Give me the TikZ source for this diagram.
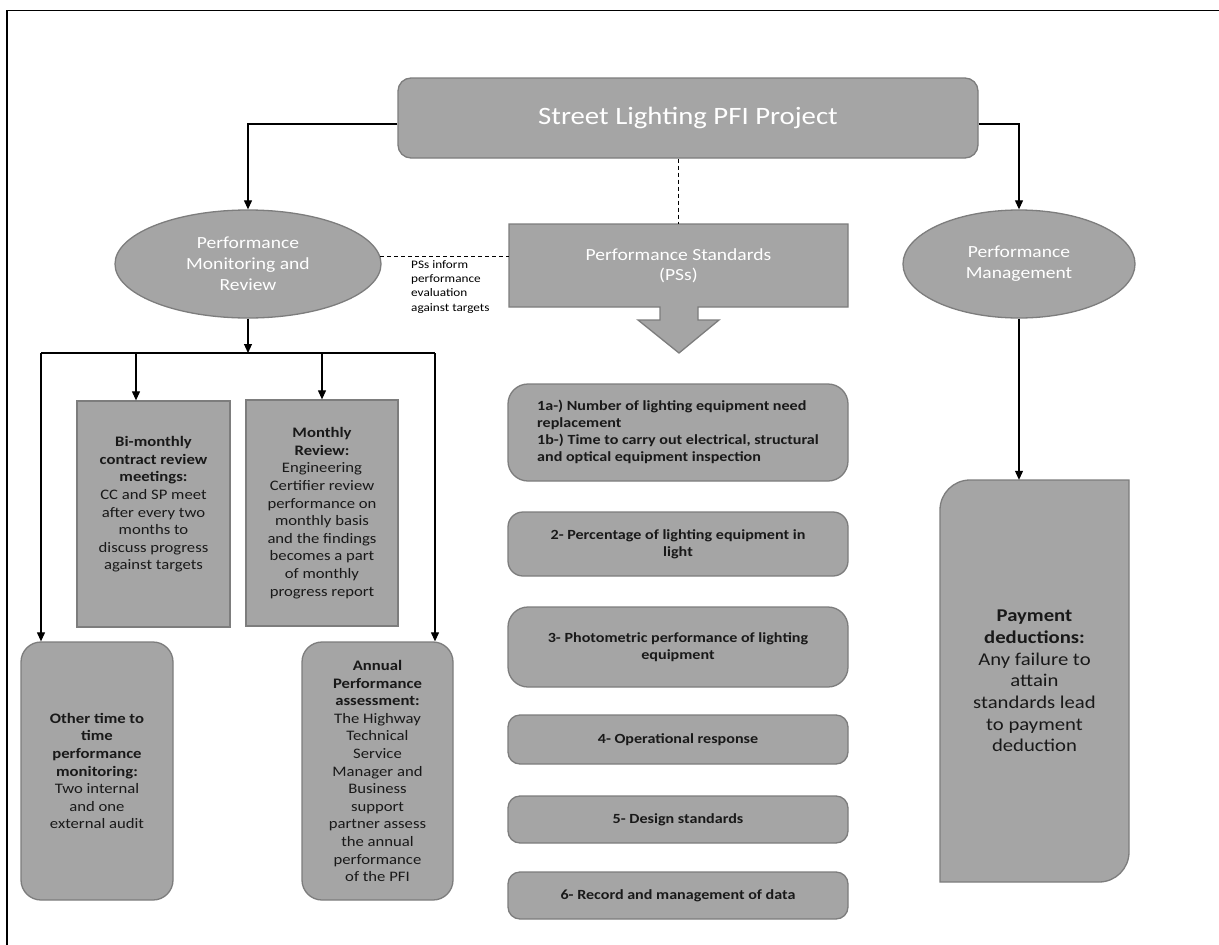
\documentclass[tikz,border=0pt]{standalone}
\usepackage{fontspec}
\setmainfont{Carlito}[FakeStretch=1.15]
\usetikzlibrary{shapes.geometric,arrows.meta}
\definecolor{boxgray}{RGB}{165,165,165}
\definecolor{edgegray}{RGB}{125,125,125}
\definecolor{ink}{RGB}{25,25,25}
\begin{document}
\begin{tikzpicture}[x=1pt,y=-1pt,
  gbox/.style={fill=boxgray,draw=edgegray,line width=1.3pt},
  ttl/.style={gbox,rounded corners=13pt,minimum width=580pt,minimum height=80pt,text=white,inner sep=0pt,font=\fontsize{25}{30}\selectfont},
  ell/.style={gbox,ellipse,inner sep=0pt,text=white,align=center,font=\fontsize{17}{21}\selectfont},
  tbox/.style={gbox,align=center,text=ink,inner sep=0pt,font=\fontsize{14.5}{17.6}\selectfont},
  psbox/.style={gbox,align=center,text=ink,inner sep=0pt,minimum width=340pt,font=\bfseries\fontsize{14}{17}\selectfont},
  arr/.style={line width=1.1pt,-{Triangle[width=8pt,length=9pt]}},
  conn/.style={line width=1.1pt},
  dsh/.style={line width=1pt,dash pattern=on 4pt off 3pt}]
\useasboundingbox[fill=white] (0,0) rectangle (1219,945);
% frame
\draw[line width=1.6pt] (7,945) -- (7,10.5) -- (1219,10.5);

% title
\node[ttl] (title) at (688,118) {Street Lighting PFI Project};

% ellipses
\node[ell,minimum width=266pt,minimum height=108pt] (pmr) at (248,264) {Performance\\Monitoring and\\Review};
\node[ell,minimum width=232pt,minimum height=108pt] (pm) at (1019,264) {Performance\\Management};

% performance standards block arrow
\draw[gbox] (509,224) -- (848,224) -- (848,307) -- (698,307) -- (698,320) -- (719,320) -- (679,353) -- (638,320) -- (660,320) -- (660,307) -- (509,307) -- cycle;
\node[inner sep=0pt,minimum width=339pt,minimum height=83pt,text=white,align=center,font=\fontsize{17}{20}\selectfont] (ps) at (678.5,265.5) {Performance Standards\\(PSs)};

% connectors from title
\draw[arr] ([yshift=-6pt]title.west) -| (pmr.north);
\draw[arr] ([yshift=-6pt]title.east) -| (pm.north);
\draw[dsh] (ps.north |- title.south) -- (ps.north);

% dashed link and label
\path (pmr.center) ++(132,-8) coordinate (dl);
\draw[dsh] (dl) -- (dl -| ps.west);
\node[anchor=north west,inner sep=0pt,align=left,font=\fontsize{11.5}{14.3}\selectfont] (psl) at (411,260) {PSs inform\\performance\\evaluation\\against targets};

% left branch boxes
\node[tbox,minimum width=153pt,minimum height=226pt] (bim) at (153.5,514) {\textbf{Bi-monthly}\\\textbf{contract review}\\\textbf{meetings:}\\CC and SP meet\\after every two\\months to\\discuss progress\\against targets\\[4pt]\mbox{}};
\node[tbox,minimum width=152pt,minimum height=226pt] (mon) at (322,513) {\textbf{Monthly}\\\textbf{Review:}\\Engineering\\Certifier review\\performance on\\monthly basis\\and the findings\\becomes a part\\of monthly\\progress report};
\node[tbox,rounded corners=20pt,minimum width=152pt,minimum height=258pt] (oth) at (97,771) {\textbf{Other time to}\\\textbf{time}\\\textbf{performance}\\\textbf{monitoring:}\\Two internal\\and one\\external audit};
\node[tbox,rounded corners=20pt,minimum width=151pt,minimum height=258pt] (ann) at (377.5,771) {\textbf{Annual}\\\textbf{Performance}\\\textbf{assessment:}\\The Highway\\Technical\\Service\\Manager and\\Business\\support\\partner assess\\the annual\\performance\\of the PFI};

% bus
\coordinate (bL) at (41,353);
\coordinate (bR) at (435,353);
\coordinate (bB) at (136,353);
\draw[arr] (pmr.south) -- (pmr.south |- bL);
\draw[conn] (bL) -- (bR);
\draw[arr] (bL) -- (bL |- oth.north);
\draw[arr] (bR) -- (bR |- ann.north);
\draw[arr] (bB) -- (bB |- bim.north);
\draw[arr] (mon.north |- bL) -- (mon.north);

% performance standards list
\node[psbox,rounded corners=20pt,minimum height=97pt] (p1) at (678,432.5) {\begin{tabular}{@{}l@{}}1a-) Number of lighting equipment need\\replacement\\1b-) Time to carry out electrical, structural\\and optical equipment inspection\end{tabular}};
\node[psbox,rounded corners=15pt,minimum height=64pt] (p2) at (678,544) {2- Percentage of lighting equipment in\\light};
\node[psbox,rounded corners=20pt,minimum height=80pt] (p3) at (678,647) {3- Photometric performance of lighting\\equipment};
\node[psbox,rounded corners=12pt,minimum height=49pt] (p4) at (678,739.5) {4- Operational response};
\node[psbox,rounded corners=12pt,minimum height=47pt] (p5) at (678,819.5) {5- Design standards};
\node[psbox,rounded corners=12pt,minimum height=47pt] (p6) at (678,895.5) {6- Record and management of data};

% payment box
\draw[gbox] (940,882) -- (940,510) .. controls (940,493.4) and (953.4,480) .. (970,480) -- (1129,480) -- (1129,852) .. controls (1129,868.6) and (1115.6,882) .. (1099,882) -- cycle;
\node[inner sep=0pt,minimum width=189pt,minimum height=402pt,text=ink,align=center,font=\fontsize{18}{21.7}\selectfont] (pay) at (1034.5,681) {\textbf{Payment}\\\textbf{deductions:}\\Any failure to\\attain\\standards lead\\to payment\\deduction};
\draw[arr] (pm.south) -- (pm.south |- pay.north);
\end{tikzpicture}
\end{document}
